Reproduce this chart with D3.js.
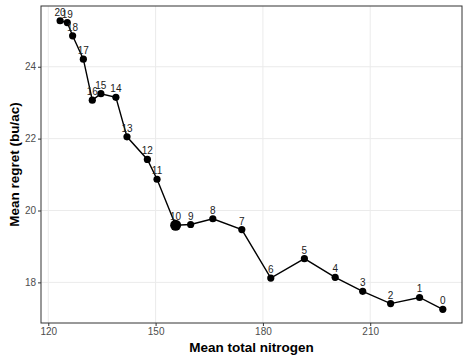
<!DOCTYPE html>
<html>
<head>
<meta charset="utf-8">
<script src="https://cdn.jsdelivr.net/npm/d3@7"></script>
<style>
  body { margin: 0; background: #fff; }
  text { font-family: "Liberation Sans", Arial, sans-serif; }
</style>
</head>
<body>
<div id="chart"></div>
<script>
'use strict';

// data
const labels = [20, 19, 18, 17, 16, 15, 14, 13, 12, 11, 10, 9, 8, 7, 6, 5, 4, 3, 2, 1, 0];
const nitrogen = [123.3, 125.3, 126.8, 129.8, 132.3, 134.7, 138.9, 142.0, 147.7, 150.4,
                  155.6, 159.8, 166.0, 174.1, 182.2, 191.6, 200.2, 207.9, 215.7, 223.8, 230.3];
const regret = [25.28, 25.23, 24.86, 24.21, 23.07, 23.25, 23.15, 22.05, 21.42, 20.87,
                19.59, 19.61, 19.77, 19.47, 18.12, 18.66, 18.14, 17.75, 17.41, 17.58, 17.25];
const highlight = 10;
const xTicks = [120, 150, 180, 210];
const yTicks = [18, 20, 22, 24];

const data = labels.map((l, i) => ({label: l, x: nitrogen[i], y: regret[i]}));

const w = 469, h = 361;
const margin = {top: 6, right: 7, bottom: 38, left: 41};
const gW = w - margin.left - margin.right;
const gH = h - margin.top - margin.bottom;

const svg = d3.select('#chart').append('svg')
    .attr('width', w)
    .attr('height', h);

const g = svg.append('g')
    .attr('transform', `translate(${margin.left},${margin.top})`);

const xScale = d3.scaleLinear().domain([117.96, 235.66]).range([0, gW]);
const yScale = d3.scaleLinear().domain([16.87, 25.69]).range([gH, 0]);

// grid
g.selectAll('.gx').data(xTicks).join('line')
    .attr('x1', d => xScale(d)).attr('x2', d => xScale(d))
    .attr('y1', 0).attr('y2', gH)
    .attr('stroke', '#ebebeb').attr('stroke-width', 1);
g.selectAll('.gy').data(yTicks).join('line')
    .attr('y1', d => yScale(d)).attr('y2', d => yScale(d))
    .attr('x1', 0).attr('x2', gW)
    .attr('stroke', '#ebebeb').attr('stroke-width', 1);

// axes
const xAxis = g.append('g')
    .attr('transform', `translate(0,${gH})`)
    .call(d3.axisBottom(xScale).tickValues(xTicks).tickSize(3).tickPadding(2));
const yAxis = g.append('g')
    .call(d3.axisLeft(yScale).tickValues(yTicks).tickSize(3).tickPadding(2));
[xAxis, yAxis].forEach(a => {
    a.select('.domain').remove();
    a.selectAll('line').attr('stroke', '#333');
    a.selectAll('text').attr('fill', '#4d4d4d').style('font-size', '10px')
        .style('font-family', '"Liberation Sans", Arial, sans-serif');
});

// line
const line = d3.line().x(d => xScale(d.x)).y(d => yScale(d.y));
g.append('path')
    .datum(data)
    .attr('d', line)
    .attr('fill', 'none')
    .attr('stroke', '#000')
    .attr('stroke-width', 1.4);

// points
g.selectAll('.pt').data(data).join('circle')
    .attr('cx', d => xScale(d.x))
    .attr('cy', d => yScale(d.y))
    .attr('r', d => d.label === highlight ? 5.5 : 3.6)
    .attr('fill', '#000');

// point labels
g.selectAll('.lbl').data(data).join('text')
    .attr('x', d => xScale(d.x))
    .attr('y', d => yScale(d.y) - 5)
    .attr('text-anchor', 'middle')
    .attr('fill', '#222')
    .style('font-size', '10px')
    .text(d => d.label);

// panel border
g.append('rect')
    .attr('width', gW).attr('height', gH)
    .attr('fill', 'none')
    .attr('stroke', '#333').attr('stroke-width', 1);

// axis titles
svg.append('text')
    .attr('x', margin.left + gW / 2)
    .attr('y', 352)
    .attr('text-anchor', 'middle')
    .style('font-size', '13.5px')
    .style('font-weight', 'bold')
    .text('Mean total nitrogen');

svg.append('text')
    .attr('transform', `translate(19,${margin.top + gH / 2}) rotate(-90)`)
    .attr('text-anchor', 'middle')
    .style('font-size', '13.5px')
    .style('font-weight', 'bold')
    .text('Mean regret (bu/ac)');
</script>
</body>
</html>
